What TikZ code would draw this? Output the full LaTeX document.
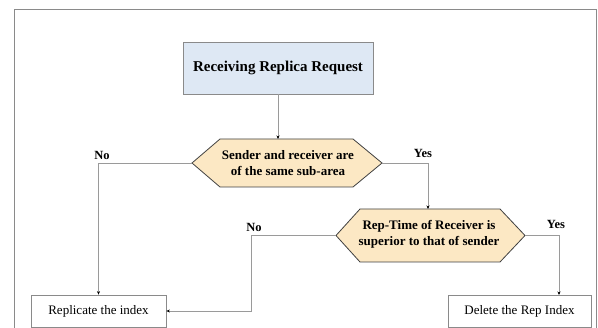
\documentclass[tikz,border=0pt]{standalone}
\usepackage{fontspec}
\setmainfont{Liberation Serif}
\usetikzlibrary{arrows.meta}
\definecolor{boxblue}{HTML}{DEE8F4}
\definecolor{hexfill}{HTML}{FCE8C4}
\definecolor{linegray}{HTML}{9A9A9A}
\definecolor{bordgray}{HTML}{8A8A8A}
\begin{document}
\begin{tikzpicture}[x=1pt,y=-1pt,
 conn/.style={draw=linegray, line width=0.9pt, -{Stealth[length=3.5pt,width=3pt,black]}},
 startbox/.style={draw=bordgray, fill=boxblue, line width=0.8pt, minimum width=190pt, minimum height=52pt, inner sep=0pt, font=\fontsize{15}{18}\selectfont\bfseries},
 endbox/.style={draw=bordgray, fill=white, line width=0.8pt, minimum height=32pt, inner sep=0pt, font=\fontsize{13}{15}\selectfont},
 hex/.style={draw=black!75, fill=hexfill, line width=0.8pt},
 hextext/.style={align=center, inner sep=0pt, font=\fontsize{13}{16.5}\selectfont\bfseries},
 lab/.style={inner sep=0pt, font=\fontsize{12.5}{14}\selectfont\bfseries}]
\useasboundingbox (0,0) rectangle (598,328);
\fill[white] (0,0) rectangle (598,328);
\draw[bordgray, line width=0.8pt] (14,9.5) rectangle (596,340);

% start box
\node[startbox] (start) at (278,68) {Receiving Replica Request};

% decision 1
\coordinate (h1w) at (192,163);
\coordinate (h1e) at (382,163);
\coordinate (h1n) at (278,139);
\draw[hex] (h1w) -- (220,139) -- (353,139) -- (h1e) -- (353,187) -- (220,187) -- cycle;
\node[hextext] (d1) at (288,163) {Sender and receiver are\\of the same sub-area};

% decision 2
\coordinate (h2w) at (336,235.5);
\coordinate (h2e) at (525,235.5);
\coordinate (h2n) at (428,209);
\draw[hex] (h2w) -- (360,209) -- (500,209) -- (h2e) -- (500,262) -- (360,262) -- cycle;
\node[hextext] (d2) at (429,234.5) {Rep-Time of Receiver is\\superior to that of sender};

% end boxes
\node[endbox, minimum width=135pt] (rep) at (98.5,311) {Replicate the index};
\node[endbox, minimum width=143pt] (del) at (519.5,311) {Delete the Rep Index};

% connectors
\coordinate (c2) at (251,311);
\coordinate (y2) at (559,295);
\draw[conn] (start.south) -- (h1n);
\draw[conn] (h1e) -| (h2n);
\draw[conn] (h1w) -| (rep.north);
\draw[conn] (h2w) -| (c2) -- (rep.east);
\draw[conn] (h2e) -| (y2);

% labels
\node[lab] (no1) at (102,155) {No};
\node[lab] (yes1) at (423,153) {Yes};
\node[lab] (no2) at (254,227) {No};
\node[lab] (yes2) at (556,224) {Yes};
\end{tikzpicture}
\end{document}
